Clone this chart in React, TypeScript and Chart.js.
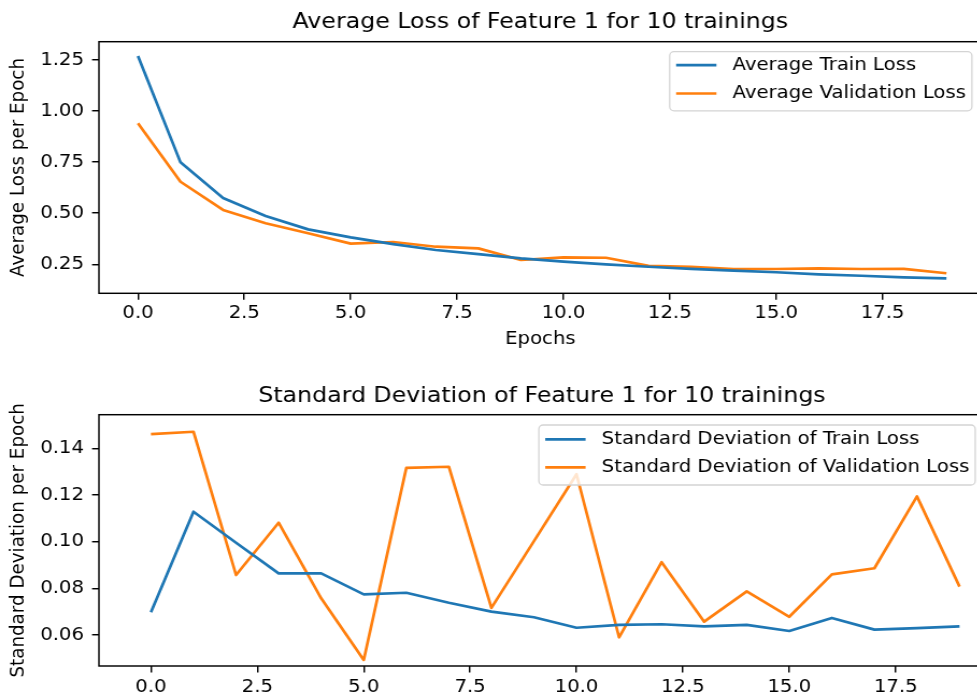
import { useEffect, useRef } from 'react';
import { Chart, registerables } from 'chart.js';

Chart.register(...registerables);

// ---- data ---------------------------------------------------------------
const EPOCHS = [0, 1, 2, 3, 4, 5, 6, 7, 8, 9, 10, 11, 12, 13, 14, 15, 16, 17, 18, 19];

const AVG_TRAIN_LOSS = [
  1.27, 0.749, 0.574, 0.486, 0.421, 0.382, 0.349, 0.32, 0.3, 0.279,
  0.263, 0.25, 0.238, 0.228, 0.219, 0.211, 0.201, 0.194, 0.186, 0.181,
];
const AVG_VAL_LOSS = [
  0.94, 0.654, 0.516, 0.451, 0.402, 0.351, 0.359, 0.336, 0.328, 0.271,
  0.284, 0.282, 0.242, 0.238, 0.227, 0.227, 0.23, 0.227, 0.228, 0.206,
];
const STD_TRAIN_LOSS = [
  0.0697, 0.1128, 0.0995, 0.0864, 0.0864, 0.0774, 0.0781, 0.0738, 0.07, 0.0676,
  0.0631, 0.0643, 0.0646, 0.0637, 0.0643, 0.0617, 0.0673, 0.0623, 0.0629, 0.0637,
];
const STD_VAL_LOSS = [
  0.1461, 0.1471, 0.0857, 0.1081, 0.0757, 0.0493, 0.1316, 0.1321, 0.0716, 0.1002,
  0.1289, 0.059, 0.0912, 0.0657, 0.0787, 0.0678, 0.086, 0.0886, 0.1194, 0.0807,
];

const X_TICKS = [0, 2.5, 5, 7.5, 10, 12.5, 15, 17.5];
const LOSS_Y_TICKS = [0.25, 0.5, 0.75, 1.0, 1.25];
const STD_Y_TICKS = [0.06, 0.08, 0.1, 0.12, 0.14];

// ---- look ---------------------------------------------------------------
const BLUE = '#1f77b4';
const ORANGE = '#ff7f0e';
const FAMILY = '"DejaVu Sans", sans-serif';
const FS = 18.3;
const TITLE_FS = 22;
const CANVAS_W = 930;
const STRETCH = 1.075; // horizontal display scale of the canvas
const AXIS_LW = 1.45;
const TICK_LEN = 6.4;
const LINE_W = 2.7;

type Series = { label: string; values: number[]; color: string };

type PanelSpec = {
  top: number;
  height: number;
  title: string;
  titlePad: { top: number; bottom: number };
  yTitle: string;
  xTitle?: string;
  xTitlePadBottom?: number;
  xMin: number;
  xMax: number;
  yMin: number;
  yMax: number;
  yTicks: number[];
  padRight: number;
  xAxisHeight: number;
  xTickPad: number;
  legend: { offsetTop: number; firstRow: number; pitch: number; lastPad: number };
  series: Series[];
};

const LOSS_PANEL: PanelSpec = {
  top: 0,
  height: 360,
  title: 'Average Loss of Feature 1 for 10 trainings',
  titlePad: { top: 8.8, bottom: 6.5 },
  yTitle: 'Average Loss per Epoch',
  xTitle: 'Epochs',
  xTitlePadBottom: 9.5,
  xMin: -0.917,
  xMax: 19.83,
  yMin: 0.108,
  yMax: 1.3396,
  yTicks: LOSS_Y_TICKS,
  padRight: 17,
  xAxisHeight: 66.7,
  xTickPad: 2.3,
  legend: { offsetTop: 10, firstRow: 13.5, pitch: 28.3, lastPad: 17.3 },
  series: [
    { label: 'Average Train Loss', values: AVG_TRAIN_LOSS, color: BLUE },
    { label: 'Average Validation Loss', values: AVG_VAL_LOSS, color: ORANGE },
  ],
};

const STD_PANEL: PanelSpec = {
  top: 370,
  height: 328,
  title: 'Standard Deviation of Feature 1 for 10 trainings',
  titlePad: { top: 13, bottom: 5.3 },
  yTitle: 'Standard Deviation per Epoch',
  xMin: -1.222,
  xMax: 19.6,
  yMin: 0.0467,
  yMax: 0.1544,
  yTicks: STD_Y_TICKS,
  padRight: 13.9,
  xAxisHeight: 32,
  xTickPad: 3.8,
  legend: { offsetTop: 10.3, firstRow: 14.3, pitch: 28, lastPad: 17.7 },
  series: [
    { label: 'Standard Deviation of Train Loss', values: STD_TRAIN_LOSS, color: BLUE },
    { label: 'Standard Deviation of Validation Loss', values: STD_VAL_LOSS, color: ORANGE },
  ],
};

const font = (size: number) => ({ family: FAMILY, size, weight: 'normal' as const, lineHeight: 1.2 });

// Full box of spines around the plotting area.
const framePlugin = {
  id: 'mplFrame',
  afterDatasetsDraw(chart: any) {
    const { ctx, chartArea } = chart;
    const { left, top, right, bottom } = chartArea;
    ctx.save();
    ctx.strokeStyle = '#000';
    ctx.lineWidth = AXIS_LW;
    ctx.strokeRect(left, top, right - left, bottom - top);
    ctx.restore();
  },
};

// Boxed legend in the upper-right corner of the plotting area.
function makeLegendPlugin(spec: PanelSpec) {
  return {
    id: 'mplLegend',
    afterDraw(chart: any) {
      const { ctx, chartArea } = chart;
      const items = chart.data.datasets.map((ds: any) => ({ label: ds.label, color: ds.borderColor }));
      ctx.save();
      ctx.font = `normal ${FS}px ${FAMILY}`;
      const textW = Math.max(...items.map((it: any) => ctx.measureText(it.label).width));
      const padL = 6;
      const handle = 37.5;
      const gap = 15;
      const padR = 5.5;
      const width = padL + handle + gap + textW + padR;
      const right = chartArea.right - 0.5 * FS;
      const left = right - width;
      const top = chartArea.top + spec.legend.offsetTop;
      const row0 = top + spec.legend.firstRow;
      const bottom = row0 + spec.legend.pitch * (items.length - 1) + spec.legend.lastPad;

      ctx.beginPath();
      ctx.roundRect(left, top, width, bottom - top, 4);
      ctx.fillStyle = 'rgba(255,255,255,0.8)';
      ctx.fill();
      ctx.strokeStyle = '#d4d4d4';
      ctx.lineWidth = 1.3;
      ctx.stroke();

      items.forEach((it: any, i: number) => {
        const y = row0 + i * spec.legend.pitch;
        ctx.beginPath();
        ctx.moveTo(left + padL, y);
        ctx.lineTo(left + padL + handle, y);
        ctx.strokeStyle = it.color;
        ctx.lineWidth = LINE_W;
        ctx.lineCap = 'butt';
        ctx.stroke();
        ctx.fillStyle = '#000';
        ctx.textAlign = 'left';
        ctx.textBaseline = 'middle';
        ctx.fillText(it.label, left + padL + handle + gap, y);
      });
      ctx.restore();
    },
  };
}

function buildConfig(spec: PanelSpec): any {
  const tickGrid = {
    display: true,
    drawOnChartArea: false,
    drawTicks: true,
    tickLength: TICK_LEN,
    tickWidth: AXIS_LW,
    tickColor: '#000',
    color: '#000',
    lineWidth: AXIS_LW,
  };
  return {
    type: 'line',
    data: {
      datasets: spec.series.map((s) => ({
        label: s.label,
        data: EPOCHS.map((x, i) => ({ x, y: s.values[i] })),
        borderColor: s.color,
        backgroundColor: s.color,
        borderWidth: LINE_W,
        pointRadius: 0,
        pointHoverRadius: 0,
        tension: 0,
        fill: false,
        borderJoinStyle: 'round',
        borderCapStyle: 'butt',
      })),
    },
    options: {
      responsive: false,
      animation: false,
      devicePixelRatio: 1,
      events: [],
      layout: { padding: { left: 0, top: 0, right: spec.padRight, bottom: 0 } },
      plugins: {
        legend: { display: false },
        tooltip: { enabled: false },
        title: {
          display: true,
          text: spec.title,
          fullSize: false,
          color: '#000',
          font: font(TITLE_FS),
          padding: spec.titlePad,
        },
      },
      scales: {
        x: {
          type: 'linear',
          min: spec.xMin,
          max: spec.xMax,
          afterBuildTicks: (axis: any) => {
            axis.ticks = X_TICKS.map((value) => ({ value }));
          },
          afterFit: (axis: any) => {
            axis.height = spec.xAxisHeight;
          },
          ticks: {
            callback: (v: any) => Number(v).toFixed(1),
            color: '#000',
            font: font(FS),
            padding: spec.xTickPad,
            autoSkip: false,
            maxRotation: 0,
          },
          grid: tickGrid,
          border: { display: false },
          title: spec.xTitle
            ? {
                display: true,
                text: spec.xTitle,
                color: '#000',
                font: font(FS),
                padding: { top: 0, bottom: spec.xTitlePadBottom },
              }
            : { display: false },
        },
        y: {
          type: 'linear',
          min: spec.yMin,
          max: spec.yMax,
          afterBuildTicks: (axis: any) => {
            axis.ticks = spec.yTicks.map((value) => ({ value }));
          },
          afterFit: (axis: any) => {
            axis.width = 92;
          },
          ticks: {
            callback: (v: any) => Number(v).toFixed(2),
            color: '#000',
            font: font(FS),
            padding: 7.5,
            autoSkip: false,
          },
          grid: tickGrid,
          border: { display: false },
          title: {
            display: true,
            text: spec.yTitle,
            color: '#000',
            font: font(FS),
            padding: { top: 6.6, bottom: 0 },
          },
        },
      },
    },
    plugins: [framePlugin, makeLegendPlugin(spec)],
  };
}

function Panel({ spec }: { spec: PanelSpec }) {
  const ref = useRef<HTMLCanvasElement>(null);
  useEffect(() => {
    if (!ref.current) return;
    const chart = new Chart(ref.current, buildConfig(spec));
    return () => chart.destroy();
  }, [spec]);
  return (
    <canvas
      ref={ref}
      width={CANVAS_W}
      height={spec.height}
      style={{
        position: 'absolute',
        left: 0,
        top: spec.top,
        width: `${CANVAS_W * STRETCH}px`,
        height: `${spec.height}px`,
      }}
    />
  );
}

export default function App() {
  return (
    <div
      style={{
        position: 'absolute',
        left: 0,
        top: 0,
        width: 977,
        height: 698,
        overflow: 'hidden',
        background: '#fff',
      }}
    >
      <Panel spec={LOSS_PANEL} />
      <Panel spec={STD_PANEL} />
    </div>
  );
}
